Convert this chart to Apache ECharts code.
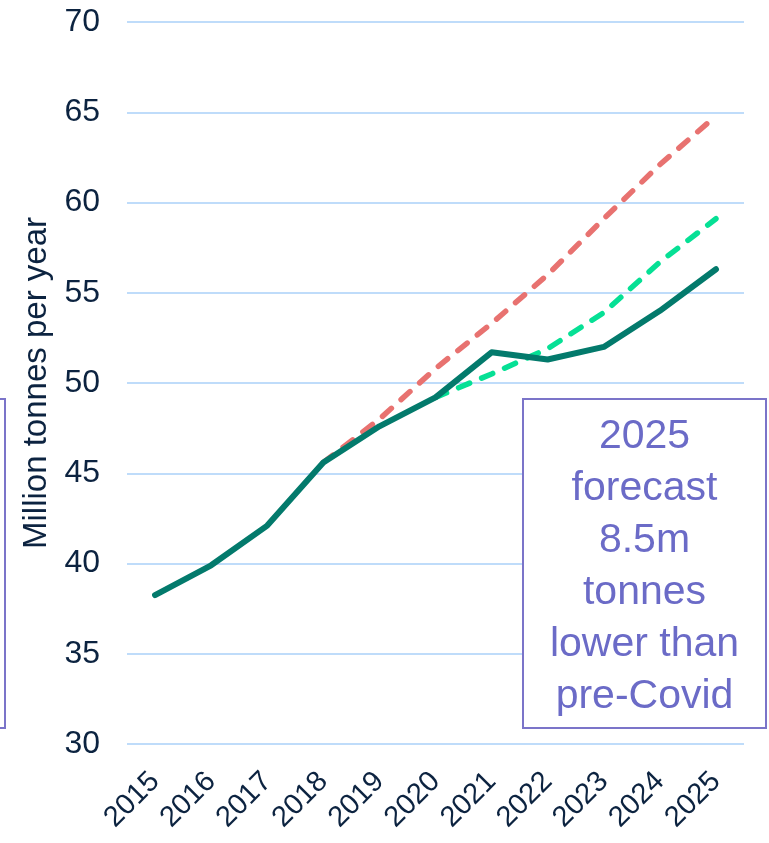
<!DOCTYPE html>
<html>
<head>
<meta charset="utf-8">
<script src="https://cdn.jsdelivr.net/npm/echarts@6/dist/echarts.min.js"></script>
<style>
  html, body { margin: 0; padding: 0; background: #ffffff; }
  #chart { width: 769px; height: 843px; }
</style>
</head>
<body>
<div id="chart"></div>
<script>
// Years on the category axis
const years = ['2015', '2016', '2017', '2018', '2019', '2020', '2021', '2022', '2023', '2024', '2025'];

// Actual / latest estimate (million tonnes per year)
const actual = [38.25, 39.9, 42.1, 45.6, 47.6, 49.2, 51.7, 51.3, 52.0, 54.0, 56.3];

// Pre-Covid forecast, branching off in 2018
const preCovid = [null, null, null, 45.6, 48.0, 50.8, 53.3, 56.0, 59.1, 62.1, 64.8];

// Covid-era forecast, branching off in 2020
const covidForecast = [null, null, null, null, null, 49.2, 50.5, 51.9, 53.9, 56.7, 59.1];

// Value axis ticks
const yMin = 30, yMax = 70, yStep = 5;

const noteLines = ['2025', 'forecast', '8.5m', 'tonnes', 'lower than', 'pre-Covid'];

const FONT = '"Liberation Sans", Arial, sans-serif';
const INK = '#0c2340';
const BOX = '#7b74c9';

const chart = echarts.init(document.getElementById('chart'), null, { renderer: 'canvas' });

chart.setOption({
  backgroundColor: '#ffffff',
  animation: false,
  grid: { left: 127, right: 25, top: 22, bottom: 99, containLabel: false },
  xAxis: {
    type: 'category',
    data: years,
    boundaryGap: true,
    axisLine: { show: false },
    axisTick: { show: false },
    axisLabel: {
      rotate: 45,
      margin: 33,
      fontSize: 29,
      color: INK,
      fontFamily: FONT,
      interval: 0
    },
    splitLine: { show: false }
  },
  yAxis: {
    type: 'value',
    min: yMin,
    max: yMax,
    interval: yStep,
    name: 'Million tonnes per year',
    nameLocation: 'middle',
    nameRotate: 90,
    nameGap: 72,
    nameTextStyle: { fontSize: 33, color: INK, fontFamily: FONT },
    axisLine: { show: false },
    axisTick: { show: false },
    axisLabel: { margin: 27, fontSize: 32, color: INK, fontFamily: FONT },
    splitLine: { show: true, lineStyle: { color: '#bfdcfa', width: 2 } }
  },
  series: [
    {
      name: 'Pre-Covid forecast',
      type: 'line',
      data: preCovid,
      symbol: 'none',
      z: 2,
      lineStyle: { color: '#e87270', width: 5.5, type: [12, 13], cap: 'round', join: 'round' }
    },
    {
      name: 'Covid forecast',
      type: 'line',
      data: covidForecast,
      symbol: 'none',
      z: 3,
      lineStyle: { color: '#06e095', width: 5.5, type: [12, 13], cap: 'round', join: 'round' }
    },
    {
      name: 'Actual',
      type: 'line',
      data: actual,
      symbol: 'none',
      z: 4,
      lineStyle: { color: '#037a6c', width: 6, cap: 'round', join: 'round' }
    }
  ],
  graphic: [
    {
      type: 'rect',
      z: 10,
      shape: { x: -20, y: 399, width: 25, height: 329 },
      style: { fill: '#ffffff', stroke: BOX, lineWidth: 2 }
    },
    {
      type: 'rect',
      z: 10,
      shape: { x: 523, y: 399, width: 243, height: 329 },
      style: { fill: '#ffffff', stroke: BOX, lineWidth: 2 }
    },
    {
      type: 'text',
      z: 11,
      x: 644.5,
      y: 567,
      style: {
        text: noteLines.join('\n'),
        fill: '#6b6bc7',
        font: '41px ' + FONT,
        lineHeight: 52,
        align: 'center',
        verticalAlign: 'middle'
      }
    }
  ]
});
</script>
</body>
</html>
